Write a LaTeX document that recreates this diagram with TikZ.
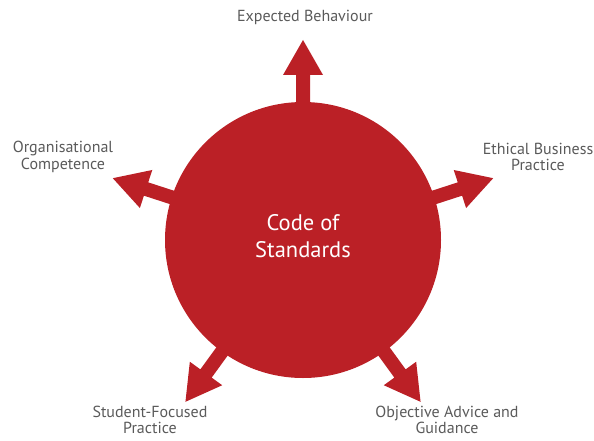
\documentclass[tikz,border=0pt]{standalone}
\usepackage{fontspec}
\setmainfont{PT Sans}
\definecolor{stdred}{HTML}{BB2026}
\definecolor{labelgrey}{HTML}{5A5A5A}

\begin{document}
\begin{tikzpicture}[x=1pt,y=1pt,
  label/.style={text=labelgrey,font=\fontsize{16}{16.5}\selectfont,align=center},
  pointer/.style={fill=stdred}]
  \useasboundingbox (0,0) rectangle (594,440);
  \def\r{138}
  % the big circle
  \node[circle,fill=stdred,minimum size=2*\r pt,inner sep=0pt] (code) at (303,200) {};
  \node[text=white,align=center,font=\fontsize{22.5}{27}\selectfont] (title)
    at ([yshift=4pt]code.center) {Code of\\Standards};
  % the five block arrows
  \foreach \a in {90,162,18,234,306}
    \fill[pointer,shift={(code.center)},rotate=\a]
      (120,-7)--(165,-7)--(165,-20)--(200,0)--(165,20)--(165,7)--(120,7)--cycle;
  % labels
  \node[label] (behaviour) at (305,423) {Expected Behaviour};
  \node[label] (competence) at (63,283) {Organisational\\Competence};
  \node[label] (ethical) at (538,283) {Ethical Business\\Practice};
  \node[label] (student) at (150,20) {Student-Focused\\Practice};
  \node[label] (advice) at (447,20) {Objective Advice and\\Guidance};
\end{tikzpicture}
\end{document}
